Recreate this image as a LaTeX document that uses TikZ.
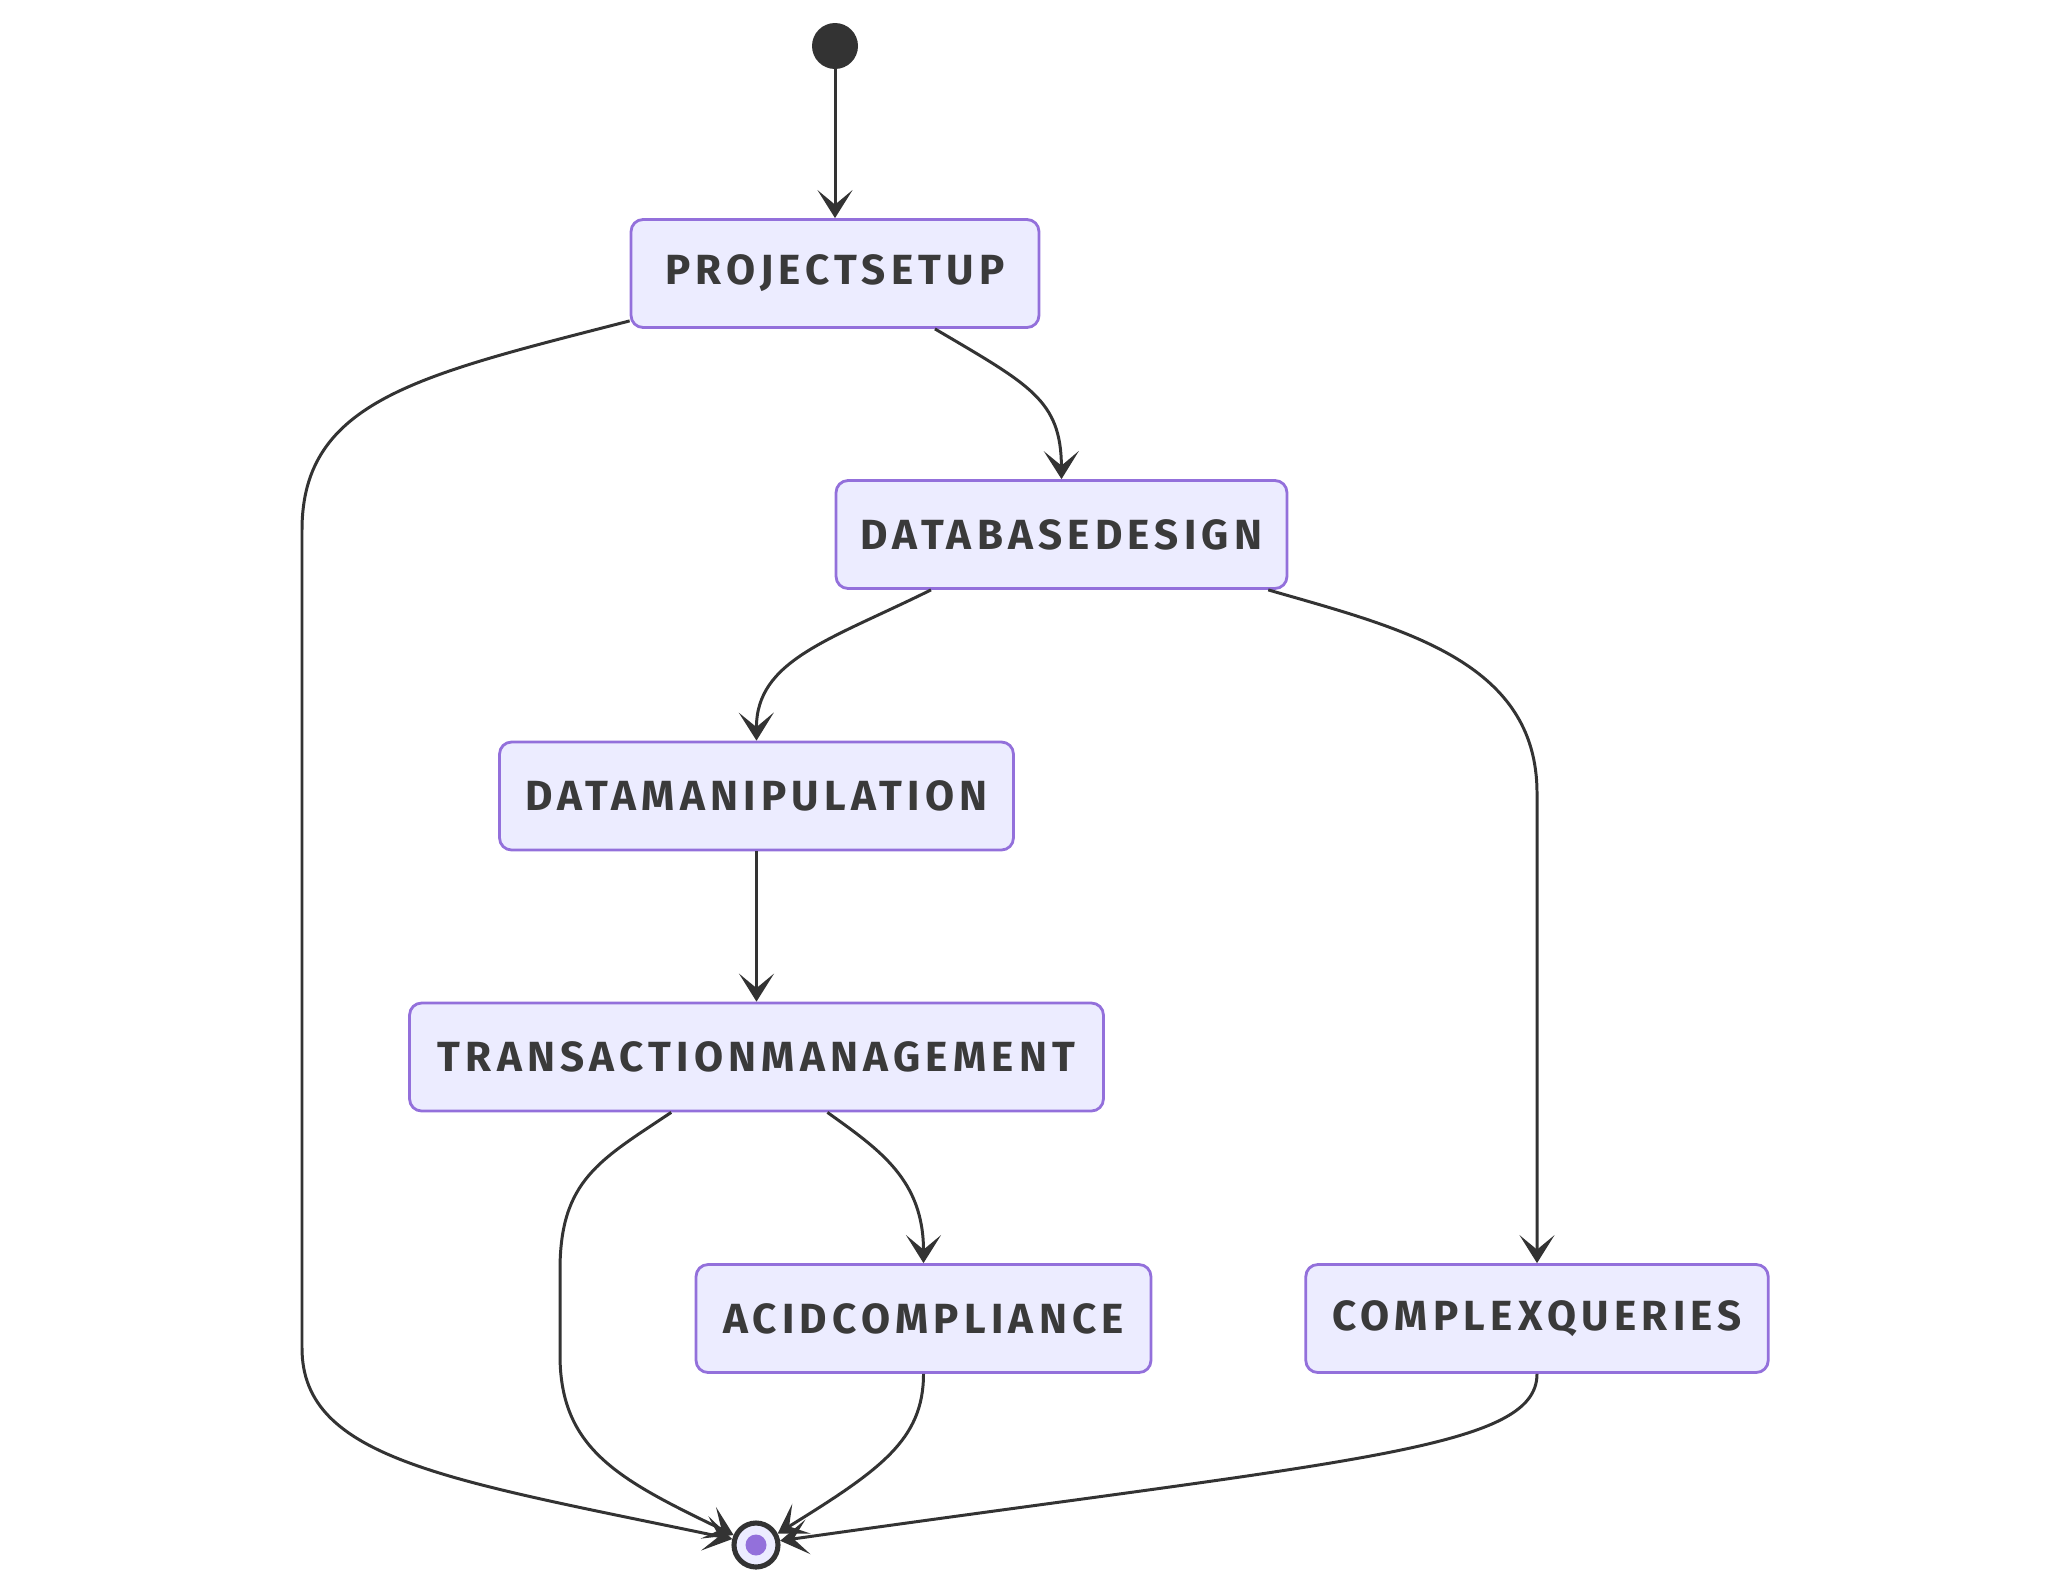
\documentclass[tikz,border=0pt]{standalone}
\usepackage{fontspec}
\setmainfont{Fira Sans}
\newfontfamily\statefont{Fira Sans}[LetterSpace=12.5]
\usetikzlibrary{arrows.meta}
\definecolor{statefill}{HTML}{ECECFF}
\definecolor{stateline}{HTML}{9370DB}
\definecolor{edgeline}{HTML}{333333}
\definecolor{statetext}{HTML}{3A3A3A}

\begin{document}
\begin{tikzpicture}[x=0.02cm, y=-0.02cm,
    state/.style={draw=stateline, fill=statefill, line width=1.6pt, rounded corners=0.24cm,
        minimum height=2.16cm, text=statetext, font=\statefont\bfseries\fontsize{24}{28}\selectfont},
    edge/.style={draw=edgeline, line width=1.7pt,
        -{Stealth[length=0.56cm, width=0.7cm, inset=0.29cm]}}]
        \useasboundingbox (0, 0) rectangle (2072, 1592);
        \draw (835, 46) node(start)[circle, fill=edgeline, minimum size=0.92cm, inner sep=0]{};
        \draw (835, 273.5) node(ps)[state, minimum width=8.16cm]{PROJECTSETUP};
        \draw (1061.5, 534.5) node(dd)[state, minimum width=9.02cm]{DATABASEDESIGN};
        \draw (756.5, 796) node(dm)[state, minimum width=10.28cm]{DATAMANIPULATION};
        \draw (756.5, 1057) node(tm)[state, minimum width=13.88cm]{TRANSACTIONMANAGEMENT};
        \draw (923.5, 1318.5) node(ac)[state, minimum width=9.1cm]{ACIDCOMPLIANCE};
        \draw (1537, 1318.5) node(cq)[state, minimum width=9.25cm]{COMPLEXQUERIES};
        \draw (756, 1545) node(end)[circle, draw=edgeline, fill=statefill, line width=2.9pt, minimum size=0.88cm, inner sep=0]{};
        \fill[stateline] (end) circle[radius=0.21cm];
        \draw[edge] (start) -- (ps.north);
        \draw[edge] (ps.193) .. controls (420, 375) and (302, 400) .. (302, 530)
            -- (302, 1348) .. controls (302, 1460) and (450, 1480) .. (end.166);
        \draw[edge] (ps.-29) .. controls (1030, 385) and (1061, 400) .. (dd.north);
        \draw[edge] (dd.203) .. controls (830, 640) and (756, 660) .. (dm.north);
        \draw[edge] (dd.-15) .. controls (1400, 628) and (1537, 660) .. (1537, 793) -- (cq.north);
        \draw[edge] (dm) -- (tm);
        \draw[edge] (tm.213) .. controls (600, 1160) and (560, 1180) .. (560, 1270)
            -- (560, 1355) .. controls (560, 1450) and (620, 1480) .. (end.156);
        \draw[edge] (tm.-38) .. controls (880, 1150) and (923.5, 1180) .. (ac.north);
        \draw[edge] (ac.south) .. controls (923.5, 1440) and (880, 1470) .. (end.28);
        \draw[edge] (cq.south) .. controls (1537, 1450) and (1350, 1460) .. (end.10);
    \end{tikzpicture}
\end{document}
